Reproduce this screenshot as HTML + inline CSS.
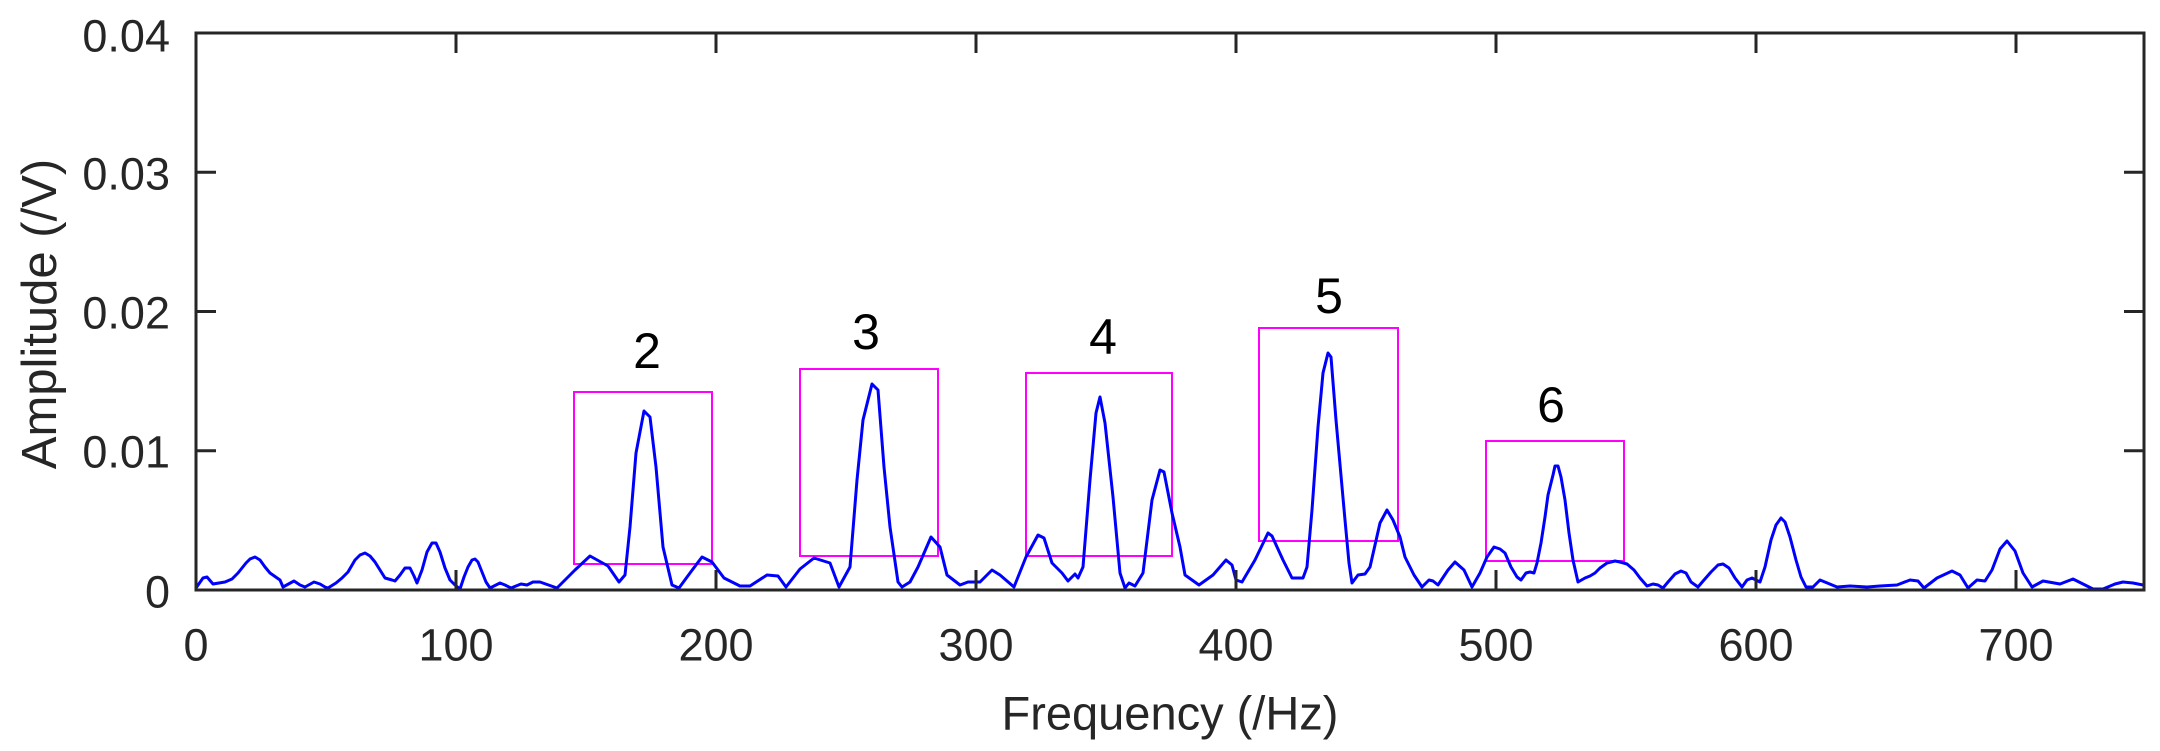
<!DOCTYPE html>
<html><head><meta charset="utf-8"><style>
html,body{margin:0;padding:0;background:#fff;}
svg{display:block;}
text{font-family:"Liberation Sans",Arial,sans-serif;fill:#262626;}
</style></head><body>
<svg width="2160" height="751" viewBox="0 0 2160 751" xmlns="http://www.w3.org/2000/svg">
<rect width="2160" height="751" fill="#fff"/>
<g fill="none" stroke="#ff00ff" stroke-width="2">
<rect x="574" y="392" width="138" height="172"/>
<rect x="800" y="369" width="138" height="187"/>
<rect x="1026" y="373" width="146" height="183"/>
<rect x="1259" y="328" width="139" height="213"/>
<rect x="1486" y="441" width="138" height="120"/>
</g>
<g font-size="50" text-anchor="middle" dominant-baseline="central">
<text x="647" y="351" style="fill:#000">2</text>
<text x="866" y="332" style="fill:#000">3</text>
<text x="1103" y="337" style="fill:#000">4</text>
<text x="1329" y="296" style="fill:#000">5</text>
<text x="1551" y="405" style="fill:#000">6</text>
</g>
<polyline fill="none" stroke="#0000ff" stroke-width="3" stroke-linejoin="round" points="196,588 203,578 207,577 213,584 225,582 232,579 238,573 246,563 250,559 255,557 260,560 265,567 270,573 280,580 283,587 294,581 300,585 305,587 314,582 320,584 325,587 328,588 336,583 342,578 348,572 355,560 360,555 365,553 370,556 375,562 380,570 385,578 392,580 395,581 400,575 405,568 410,568 414,576 417,583 422,570 427,552 432,543 436,543 440,552 445,568 450,580 455,585 460,589 464,577 468,567 472,560 475,559 478,562 482,572 486,582 490,588 496,585 500,583 505,585 511,588 516,586 521,584 527,585 533,582 540,582 557,588 575,570 590,556 608,566 619,582 625,575 630,527 636,453 644,411 650,417 656,467 663,547 672,585 679,588 690,573 702,557 712,562 724,578 740,586 750,586 767,575 778,576 786,587 800,569 814,558 830,563 839,587 850,567 857,480 863,420 872,384 878,390 884,467 890,527 898,582 902,587 910,582 918,567 931,537 940,547 947,575 960,585 968,582 980,582 992,570 1000,575 1014,587 1026,557 1038,535 1044,538 1052,563 1062,573 1068,581 1075,574 1078,578 1083,567 1090,480 1096,413 1100,397 1105,423 1113,497 1120,573 1125,588 1129,583 1135,586 1143,573 1152,500 1160,470 1164,472 1172,513 1180,547 1185,575 1199,585 1213,575 1226,560 1232,565 1236,580 1242,582 1255,560 1268,533 1272,536 1283,560 1292,578 1303,578 1307,567 1312,510 1318,427 1323,373 1328,353 1331,357 1336,420 1345,520 1349,563 1352,583 1358,575 1365,574 1370,567 1380,523 1387,510 1393,520 1400,537 1405,557 1414,575 1422,587 1429,580 1433,581 1438,585 1448,570 1455,562 1464,570 1472,587 1480,573 1487,557 1494,547 1500,549 1505,553 1511,567 1517,577 1521,580 1526,573 1530,572 1534,573 1537,563 1541,543 1545,517 1548,495 1553,475 1555,466 1558,466 1561,477 1565,500 1569,533 1573,560 1578,582 1585,578 1590,576 1595,573 1600,568 1607,563 1615,561 1620,562 1627,564 1634,570 1640,578 1647,586 1653,584 1658,585 1663,588 1668,582 1675,574 1681,571 1686,573 1691,582 1698,587 1704,580 1711,572 1718,565 1723,564 1729,568 1735,578 1742,587 1747,580 1752,578 1756,580 1760,582 1765,567 1771,540 1776,525 1781,518 1785,522 1790,537 1796,560 1801,577 1806,587 1813,587 1820,580 1837,587 1850,586 1867,587 1880,586 1897,585 1910,580 1918,581 1924,588 1937,578 1952,571 1960,575 1968,588 1977,580 1985,581 1992,570 2000,549 2007,541 2015,551 2023,573 2032,587 2043,581 2060,584 2073,579 2087,586 2093,589 2103,589 2115,584 2123,582 2133,583 2143,585"/>
<rect x="196" y="33" width="1948" height="557" fill="none" stroke="#262626" stroke-width="3"/>
<g stroke="#262626" stroke-width="3">
<path d="M456,590v-20M716,590v-20M976,590v-20M1236,590v-20M1496,590v-20M1756,590v-20M2016,590v-20"/>
<path d="M456,33v20M716,33v20M976,33v20M1236,33v20M1496,33v20M1756,33v20M2016,33v20"/>
<path d="M196,450.75h20M196,311.5h20M196,172.25h20"/>
<path d="M2144,450.75h-20M2144,311.5h-20M2144,172.25h-20"/>
</g>
<g font-size="45" text-anchor="middle" dominant-baseline="central">
<text x="196" y="645">0</text>
<text x="456" y="645">100</text>
<text x="716" y="645">200</text>
<text x="976" y="645">300</text>
<text x="1236" y="645">400</text>
<text x="1496" y="645">500</text>
<text x="1756" y="645">600</text>
<text x="2016" y="645">700</text>
</g>
<g font-size="45" text-anchor="end" dominant-baseline="central">
<text x="170" y="592">0</text>
<text x="170" y="452">0.01</text>
<text x="170" y="313">0.02</text>
<text x="170" y="174">0.03</text>
<text x="170" y="36">0.04</text>
</g>
<text x="1170" y="713" font-size="47" text-anchor="middle" dominant-baseline="central">Frequency (/Hz)</text>
<text x="0" y="0" font-size="49" text-anchor="middle" dominant-baseline="central" transform="translate(40,314) rotate(-90)">Amplitude (/V)</text>
</svg>
</body></html>
